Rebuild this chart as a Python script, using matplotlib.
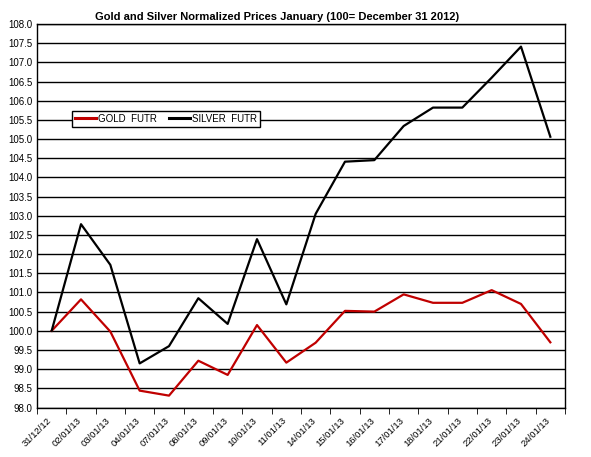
import matplotlib.pyplot as plt
import numpy as np

plt.rcParams['font.family'] = ['Liberation Sans', 'DejaVu Sans']

# dates (trading days)
dates = ["31/12/12", "02/01/13", "03/01/13", "04/01/13", "07/01/13", "08/01/13",
         "09/01/13", "10/01/13", "11/01/13", "14/01/13", "15/01/13", "16/01/13",
         "17/01/13", "18/01/13", "21/01/13", "22/01/13", "23/01/13", "24/01/13"]

gold = [100.0, 100.82, 99.98, 98.44, 98.31, 99.22, 98.85, 100.15, 99.17,
        99.69, 100.52, 100.5, 100.95, 100.73, 100.73, 101.06, 100.7, 99.7]

silver = [100.0, 102.78, 101.72, 99.15, 99.6, 100.85, 100.18, 102.39, 100.69,
          103.05, 104.41, 104.45, 105.34, 105.82, 105.82, 106.6, 107.41, 105.06]

y_ticks = np.arange(98.0, 108.01, 0.5)

fig = plt.figure(figsize=(5.91, 4.57), dpi=100)
ax = fig.add_axes([0.0626, 0.1083, 0.8934, 0.8392])

x = np.arange(len(dates))
ax.plot(x, gold, color="#C00000", lw=1.6, label="GOLD  FUTR")
ax.plot(x, silver, color="black", lw=1.6, label="SILVER  FUTR")

ax.set_xlim(-0.5, len(dates) - 0.5)
ax.set_ylim(98.0, 108.0)
ax.set_yticks(y_ticks)
ax.set_yticklabels([f"{v:.1f}" for v in y_ticks], fontsize=7)
ax.yaxis.grid(True, color="black", lw=1)
ax.set_axisbelow(True)

ax.set_xticks(x - 0.15)
ax.set_xticklabels(dates, fontsize=6.8, rotation=45, ha="right", rotation_mode="anchor")
ax.tick_params(axis="x", length=0, pad=6)
ax.set_xticks(np.arange(-0.5, len(dates)), minor=True)
ax.tick_params(axis="x", which="minor", length=4, direction="out")
ax.tick_params(axis="y", length=0, pad=3)

for s in ax.spines.values():
    s.set_linewidth(1)

ax.set_title("Gold and Silver Normalized Prices January (100= December 31 2012)",
             fontsize=8, fontweight="bold", pad=3, x=0.4545)

leg = ax.legend(loc="upper left", bbox_to_anchor=(0.057, 0.786), ncol=2, fontsize=7,
                frameon=True, fancybox=False, edgecolor="black", framealpha=1,
                handlelength=2.2, handletextpad=0.2, columnspacing=1.2,
                borderpad=0.3)
leg.get_frame().set_linewidth(1)
for h in leg.get_lines():
    h.set_linewidth(2.2)

fig.savefig("out.png", dpi=100)
